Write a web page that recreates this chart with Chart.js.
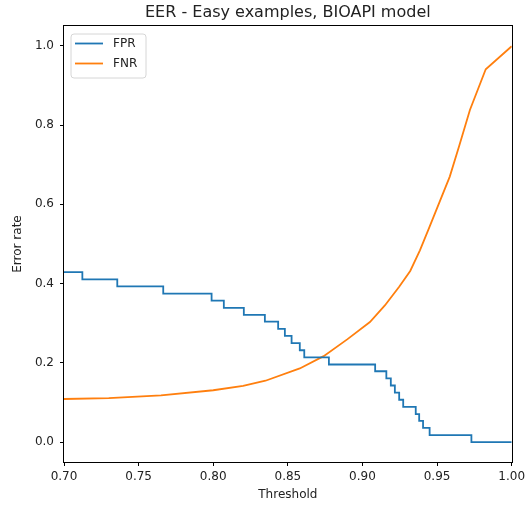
<!DOCTYPE html>
<html><head><meta charset="utf-8">
<script src="https://cdn.jsdelivr.net/npm/chart.js@4.4.0/dist/chart.umd.min.js"></script>
<style>html,body{margin:0;padding:0;background:#fff;}</style>
</head><body>
<canvas id="c" width="525" height="506"></canvas>
<script>
const titleText = 'EER - Easy examples, BIOAPI model';
const xLabel = 'Threshold';
const yLabel = 'Error rate';
const seriesNames = ['FPR', 'FNR'];
const seriesColors = ['#1f77b4', '#ff7f0e'];
const xTicks = [0.70, 0.75, 0.80, 0.85, 0.90, 0.95, 1.00];
const yTicks = [0.0, 0.2, 0.4, 0.6, 0.8, 1.0];

// FPR: step curve, value holds from threshold until the next threshold
const fprThreshold = [0.700, 0.7123, 0.7357, 0.7665, 0.7989, 0.8071, 0.8205, 0.8346, 0.8435, 0.8480, 0.8525, 0.8580, 0.8610, 0.8775, 0.9085, 0.9160, 0.9190, 0.9217, 0.9246, 0.9273, 0.9357, 0.9380, 0.9406, 0.9450, 0.9730, 1.000];
const fprValues    = [0.429, 0.411, 0.393, 0.375, 0.357, 0.339, 0.321, 0.304, 0.286, 0.268, 0.250, 0.232, 0.214, 0.196, 0.179, 0.161, 0.143, 0.125, 0.107, 0.089, 0.071, 0.054, 0.036, 0.018, 0.000, 0.000];

// FNR: polyline
const fnrThreshold = [0.700, 0.730, 0.765, 0.800, 0.820, 0.835, 0.858, 0.874, 0.890, 0.905, 0.915, 0.9246, 0.932, 0.9385, 0.945, 0.9585, 0.965, 0.972, 0.9826, 1.000];
const fnrValues    = [0.109, 0.111, 0.118, 0.131, 0.142, 0.155, 0.186, 0.217, 0.260, 0.303, 0.345, 0.392, 0.432, 0.484, 0.544, 0.670, 0.750, 0.838, 0.941, 0.999];

const FONT = 'DejaVu Sans';
const TXT = '#222';

const framePlugin = {
  id: 'frame',
  afterDraw(chart) {
    const {ctx, chartArea: a} = chart;
    ctx.save();
    ctx.strokeStyle = '#000';
    ctx.lineWidth = 1;
    ctx.strokeRect(Math.round(a.left) - 0.5, Math.round(a.top) - 0.5, Math.round(a.right - a.left) + 1, Math.round(a.bottom - a.top) + 1);
    // legend
    const lx = a.left + 7, ly = a.top + 8, lw = 75, lh = 44, r = 3;
    ctx.beginPath();
    ctx.moveTo(lx + r, ly);
    ctx.arcTo(lx + lw, ly, lx + lw, ly + lh, r);
    ctx.arcTo(lx + lw, ly + lh, lx, ly + lh, r);
    ctx.arcTo(lx, ly + lh, lx, ly, r);
    ctx.arcTo(lx, ly, lx + lw, ly, r);
    ctx.closePath();
    ctx.fillStyle = 'rgba(255,255,255,0.8)';
    ctx.fill();
    ctx.strokeStyle = '#d6d6d6';
    ctx.lineWidth = 1;
    ctx.stroke();
    chart.data.datasets.forEach((ds, i) => {
      const y = ly + 9.5 + i * 20;
      ctx.beginPath();
      ctx.moveTo(lx + 4, y);
      ctx.lineTo(lx + 32, y);
      ctx.strokeStyle = ds.borderColor;
      ctx.lineWidth = 1.8;
      ctx.stroke();
      ctx.fillStyle = TXT;
      ctx.font = '12px "' + FONT + '"';
      ctx.textBaseline = 'middle';
      ctx.textAlign = 'left';
      ctx.fillText(ds.label, lx + 42, y);
    });
    ctx.restore();
  }
};

new Chart(document.getElementById('c'), {
  type: 'line',
  data: {
    datasets: [
      {
        label: seriesNames[0],
        data: fprThreshold.map((x, i) => ({x, y: fprValues[i]})),
        borderColor: seriesColors[0],
        backgroundColor: seriesColors[0],
        borderWidth: 1.8,
        pointRadius: 0,
        stepped: 'before',
        fill: false
      },
      {
        label: seriesNames[1],
        data: fnrThreshold.map((x, i) => ({x, y: fnrValues[i]})),
        borderColor: seriesColors[1],
        backgroundColor: seriesColors[1],
        borderWidth: 1.8,
        pointRadius: 0,
        tension: 0,
        fill: false
      }
    ]
  },
  options: {
    responsive: false,
    animation: false,
    devicePixelRatio: 1,
    layout: {padding: {left: 0, right: 13.3, top: 0, bottom: 0}},
    plugins: {
      legend: {display: false},
      tooltip: {enabled: false},
      title: {
        display: true,
        text: titleText,
        fullSize: false,
        color: TXT,
        font: {family: FONT, size: 16, weight: 'normal', lineHeight: 1.2},
        padding: {top: 3.1, bottom: 3.7}
      }
    },
    scales: {
      x: {
        type: 'linear',
        min: 0.70,
        max: 1.00,
        afterBuildTicks: s => { s.ticks = xTicks.map(v => ({value: v})); },
        afterFit: s => { s.height = 44; s.paddingRight = 0; },
        ticks: {
          color: TXT,
          font: {family: FONT, size: 12},
          padding: 4,
          maxRotation: 0,
          autoSkip: false,
          callback: v => Number(v).toFixed(2)
        },
        grid: {drawOnChartArea: false, drawTicks: true, tickLength: 4, color: '#000', tickWidth: 1},
        border: {display: false},
        title: {
          display: true,
          text: xLabel,
          color: TXT,
          font: {family: FONT, size: 12, lineHeight: 1.2},
          padding: {top: 0, bottom: 3.8}
        }
      },
      y: {
        type: 'linear',
        min: -0.05,
        max: 1.05,
        afterBuildTicks: s => { s.ticks = yTicks.map(v => ({value: v})); },
        afterFit: s => { s.width = 64; },
        ticks: {
          color: TXT,
          font: {family: FONT, size: 12},
          padding: 6,
          autoSkip: false,
          callback: v => Number(v).toFixed(1)
        },
        grid: {drawOnChartArea: false, drawTicks: true, tickLength: 4, color: '#000', tickWidth: 1},
        border: {display: false},
        title: {
          display: true,
          text: yLabel,
          color: TXT,
          font: {family: FONT, size: 12, lineHeight: 1.2},
          padding: {top: 11, bottom: 0}
        }
      }
    }
  },
  plugins: [framePlugin]
});
</script>
</body></html>
